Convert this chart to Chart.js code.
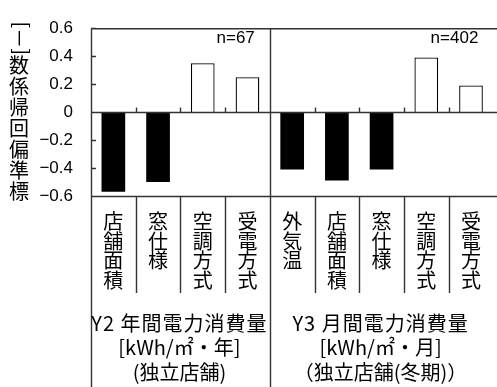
<!DOCTYPE html>
<html>
<head>
<meta charset="utf-8">
<script src="https://cdn.jsdelivr.net/npm/chart.js@4/dist/chart.umd.min.js"></script>
<style>
  body { margin: 0; background: #fff; }
  #wrap { width: 497px; height: 387px; }
</style>
</head>
<body>
<div id="wrap"><canvas id="coefChart" width="497" height="387"></canvas></div>
<script>
// data
const categories = ["店舗面積", "窓仕様", "空調方式", "受電方式", "外気温", "店舗面積", "窓仕様", "空調方式", "受電方式"];
const coefValues = [-0.57, -0.50, 0.35, 0.25, -0.41, -0.49, -0.41, 0.39, 0.19];
const groupSizes = [4, 5];
const groupNotes = ["n=67", "n=402"];
const groupLabels = [
    ["Y2 年間電力消費量", "[kWh/㎡・年]", "(独立店舗)"],
    ["Y3 月間電力消費量", "[kWh/㎡・月]", "（独立店舗(冬期)）"],
];
const yTicks = [-0.6, -0.4, -0.2, 0, 0.2, 0.4, 0.6];
const yTitle = "標準偏回帰係数";
const yUnit = "[－]";

const LINE = "#333";
const LATIN = '"Liberation Sans", Arial, sans-serif';
const CJK = '"Noto Sans CJK JP", "Noto Sans", sans-serif';

// frame, separators, group captions and the vertical y title
const decorPlugin = {
    id: "decor",
    afterDatasetsDraw(chart) {
        const { ctx, chartArea: a, scales } = chart;
        const x = scales.x, y = scales.y;
        const W = chart.width, H = chart.height;
        const edge = (i) => (x.getPixelForValue(i) + x.getPixelForValue(i + 1)) / 2;
        const y0 = Math.round(y.getPixelForValue(0)) + 0.5;

        ctx.save();
        ctx.strokeStyle = LINE;
        ctx.lineWidth = 1.4;
        ctx.beginPath();
        ctx.moveTo(a.left, a.top + 0.5); ctx.lineTo(W, a.top + 0.5);
        ctx.moveTo(a.left, a.bottom + 0.5); ctx.lineTo(W, a.bottom + 0.5);
        ctx.moveTo(a.left + 0.5, a.top); ctx.lineTo(a.left + 0.5, H);
        ctx.moveTo(a.left, y0); ctx.lineTo(W, y0);
        yTicks.forEach((v) => {
            const py = Math.round(y.getPixelForValue(v)) + 0.5;
            ctx.moveTo(a.left, py); ctx.lineTo(a.left + 5, py);
        });
        let start = 0;
        groupSizes.forEach((n, g) => {
            for (let i = start; i < start + n - 1; i++) {
                const px = Math.round(edge(i)) + 0.5;
                ctx.moveTo(px, y0); ctx.lineTo(px, y0 - 5);
                ctx.moveTo(px, a.bottom); ctx.lineTo(px, a.bottom + 97);
            }
            if (g < groupSizes.length - 1) {
                const px = Math.round(edge(start + n - 1)) + 0.5;
                ctx.moveTo(px, y0); ctx.lineTo(px, y0 - 5);
                ctx.moveTo(px, a.top); ctx.lineTo(px, H);
            }
            start += n;
        });
        ctx.stroke();

        // group captions and n= notes
        ctx.fillStyle = "#000";
        start = 0;
        groupSizes.forEach((n, g) => {
            const left = g === 0 ? a.left : edge(start - 1);
            const right = Math.min(edge(start + n - 1), W);
            const cx = (left + right) / 2 - 1;
            ctx.font = "17px " + LATIN;
            ctx.textAlign = "right";
            ctx.textBaseline = "middle";
            ctx.fillText(groupNotes[g], right - 15, 38);

            ctx.font = "20px " + CJK;
            ctx.textAlign = "center";
            groupLabels[g].forEach((t, k) => {
                ctx.letterSpacing = k === 0 ? "1px" : "0px";
                ctx.fillText(t, cx, 323 + k * 24.5);
            });
            ctx.letterSpacing = "0px";
            start += n;
        });

        // y title: CJK upright stacked bottom-to-top, unit rotated
        ctx.font = "20px " + CJK;
        ctx.textAlign = "center";
        ctx.textBaseline = "middle";
        const tx = 19;
        let ty = 202;
        for (const ch of yTitle) {
            ctx.fillText(ch, tx, ty - 10.5);
            ty -= 21;
        }
        ctx.translate(tx, ty);
        ctx.rotate(-Math.PI / 2);
        ctx.textAlign = "left";
        ctx.fillText(yUnit, 0, 0);
        ctx.restore();
    },
};

new Chart(document.getElementById("coefChart"), {
    type: "bar",
    data: {
        labels: categories.map((c) => c.split("")),
        datasets: [
            {
                data: coefValues,
                backgroundColor: coefValues.map((v) => (v < 0 ? "#000" : "#fff")),
                borderColor: "#000",
                borderWidth: coefValues.map((v) => (v < 0 ? 0 : 1.3)),
                categoryPercentage: 1,
                barPercentage: 0.53,
            },
        ],
    },
    options: {
        responsive: false,
        animation: false,
        layout: { padding: { top: 15, right: -3, bottom: 0, left: 0 } },
        plugins: { legend: { display: false }, tooltip: { enabled: false } },
        scales: {
            x: {
                grid: { display: false, drawTicks: false },
                border: { display: false },
                ticks: {
                    autoSkip: false,
                    maxRotation: 0,
                    minRotation: 0,
                    padding: 16,
                    color: "#000",
                    font: { family: CJK, size: 20, lineHeight: 0.975 },
                },
                afterFit(scale) { scale.height = 191; },
            },
            y: {
                min: -0.6,
                max: 0.6,
                grid: { display: false, drawTicks: false },
                border: { display: false },
                afterBuildTicks(scale) { scale.ticks = yTicks.map((v) => ({ value: v })); },
                ticks: {
                    padding: 18,
                    color: "#000",
                    font: { family: LATIN, size: 17 },
                    callback: (v) => (Math.abs(v) < 1e-9 ? "0" : String(Math.round(v * 10) / 10).replace("-", "−")),
                },
                afterFit(scale) { scale.width = 91; },
            },
        },
    },
    plugins: [decorPlugin],
});
</script>
</body>
</html>
